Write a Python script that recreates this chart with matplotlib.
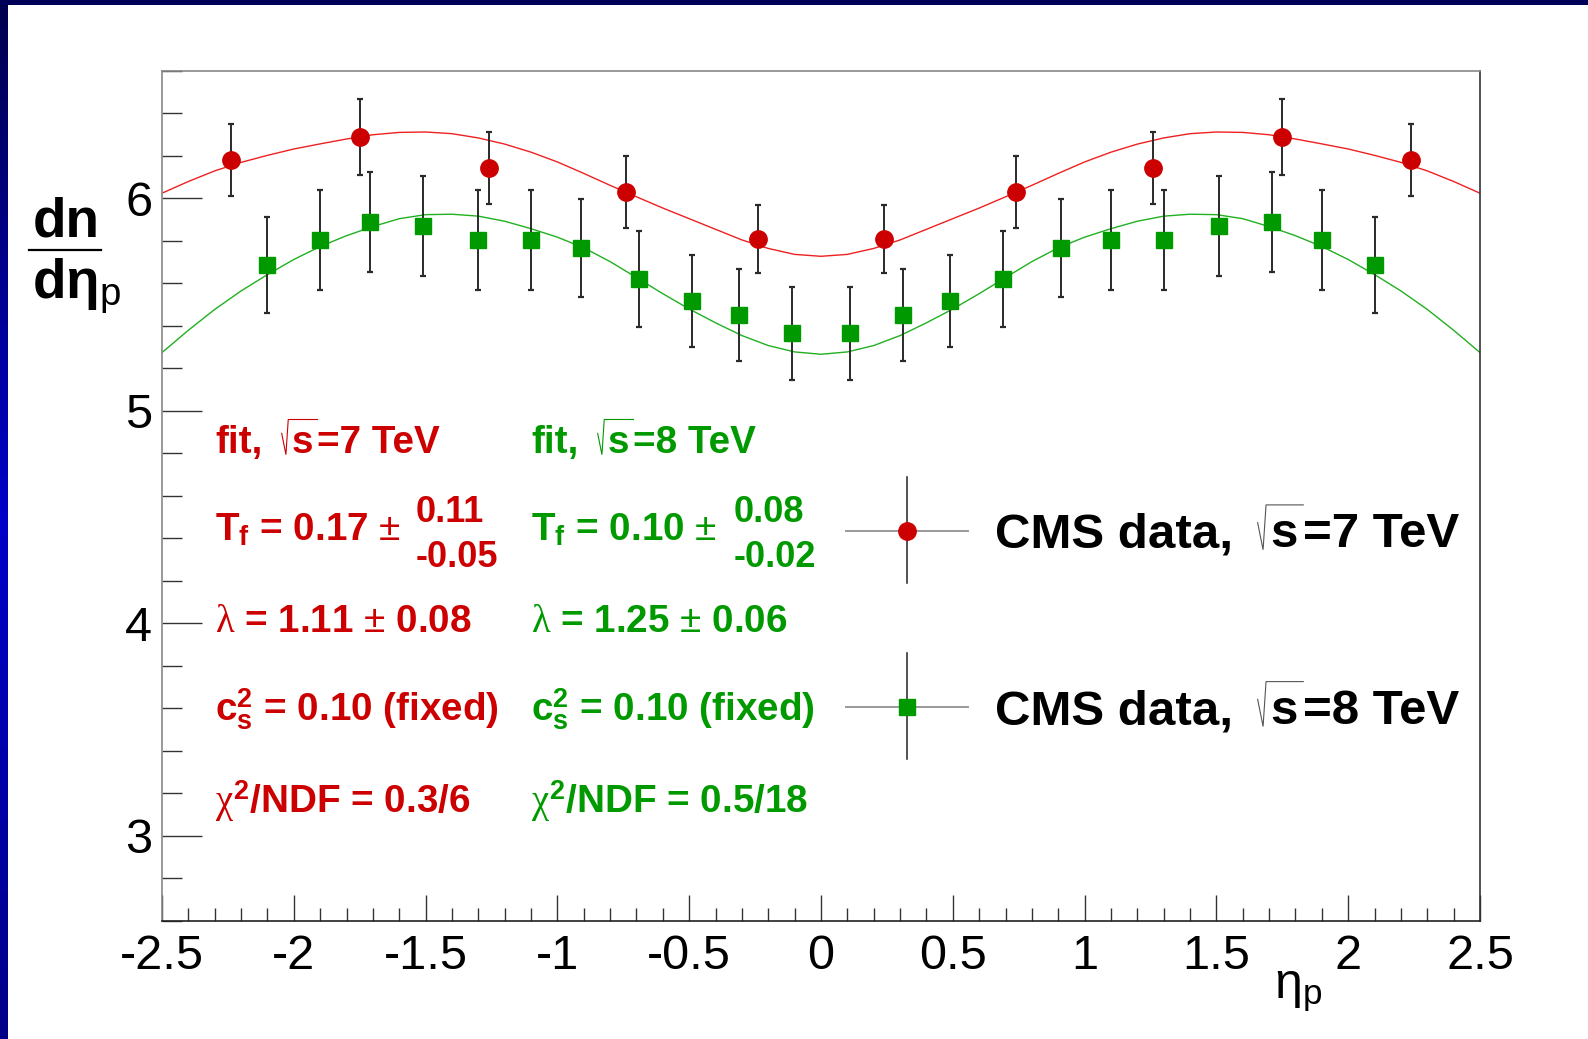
import numpy as np
import matplotlib
matplotlib.use('Agg')
import matplotlib.pyplot as plt
from matplotlib.colors import LinearSegmentedColormap

# ---------------- data ----------------
x7 = [-2.24, -1.75, -1.26, -0.74, -0.24, 0.24, 0.74, 1.26, 1.75, 2.24]
y7 = [6.18, 6.29, 6.145, 6.03, 5.81, 5.81, 6.03, 6.145, 6.29, 6.18]
e7 = [0.17, 0.18, 0.17, 0.17, 0.16, 0.16, 0.17, 0.17, 0.18, 0.17]

x8 = [-2.10, -1.90, -1.71, -1.51, -1.30, -1.10, -0.91, -0.69, -0.49, -0.31, -0.11,
      0.11, 0.31, 0.49, 0.69, 0.91, 1.10, 1.30, 1.51, 1.71, 1.90, 2.10]
y8 = [5.686, 5.803, 5.889, 5.871, 5.803, 5.803, 5.768, 5.620, 5.518, 5.451, 5.365,
      5.365, 5.451, 5.518, 5.620, 5.768, 5.803, 5.803, 5.871, 5.889, 5.803, 5.686]
e8 = [0.225, 0.235, 0.234, 0.235, 0.235, 0.235, 0.230, 0.225, 0.216, 0.217, 0.217,
      0.217, 0.217, 0.216, 0.225, 0.230, 0.235, 0.235, 0.235, 0.234, 0.235, 0.225]

fit_x = [-2.5, -2.4, -2.3, -2.2, -2.1, -2.0, -1.9, -1.8, -1.7, -1.6, -1.5, -1.4, -1.3,
         -1.2, -1.1, -1.0, -0.9, -0.8, -0.7, -0.6, -0.5, -0.4, -0.3, -0.2, -0.1, 0.0,
         0.1, 0.2, 0.3, 0.4, 0.5, 0.6, 0.7, 0.8, 0.9, 1.0, 1.1, 1.2, 1.3, 1.4, 1.5,
         1.6, 1.7, 1.8, 1.9, 2.0, 2.1, 2.2, 2.3, 2.4, 2.5]
fit7 = [6.025, 6.080, 6.130, 6.170, 6.203, 6.233, 6.257, 6.280, 6.300, 6.311, 6.313,
        6.305, 6.285, 6.256, 6.218, 6.172, 6.118, 6.062, 6.008, 5.955, 5.905, 5.855,
        5.805, 5.765, 5.737, 5.728,
        5.737, 5.765, 5.805, 5.855, 5.905, 5.955, 6.008, 6.062, 6.118, 6.172, 6.218,
        6.256, 6.285, 6.305, 6.313, 6.311, 6.300, 6.280, 6.257, 6.233, 6.203, 6.170,
        6.130, 6.080, 6.025]
fit8 = [5.275, 5.380, 5.478, 5.565, 5.642, 5.713, 5.774, 5.825, 5.868, 5.905, 5.924,
        5.926, 5.917, 5.893, 5.858, 5.818, 5.768, 5.703, 5.628, 5.552, 5.480, 5.415,
        5.355, 5.308, 5.278, 5.267,
        5.278, 5.308, 5.355, 5.415, 5.480, 5.552, 5.628, 5.703, 5.768, 5.818, 5.858,
        5.893, 5.917, 5.926, 5.924, 5.905, 5.868, 5.825, 5.774, 5.713, 5.642, 5.565,
        5.478, 5.380, 5.275]

xticks = [-2.5, -2.0, -1.5, -1.0, -0.5, 0.0, 0.5, 1.0, 1.5, 2.0, 2.5]
xtick_labels = ['-2.5', '-2', '-1.5', '-1', '-0.5', '0', '0.5', '1', '1.5', '2', '2.5']
yticks = [3, 4, 5, 6]
ytick_labels = ['3', '4', '5', '6']

# (text before sqrt, text after sqrt) for the header lines
fit_head_7 = ('fit,', '=7 TeV')
fit_head_8 = ('fit,', '=8 TeV')
fit_lines_7 = [r'T$_\mathrm{f}$ = 0.17 $\mathsf{\pm}$',
               r'$\lambda$ = 1.11 $\mathsf{\pm}$ 0.08',
               r'c$_\mathrm{s}^\mathrm{2}$ = 0.10 (fixed)',
               r'$\chi^\mathrm{2}$/NDF = 0.3/6']
fit_err_7 = ['0.11', '-0.05']
fit_lines_8 = [r'T$_\mathrm{f}$ = 0.10 $\mathsf{\pm}$',
               r'$\lambda$ = 1.25 $\mathsf{\pm}$ 0.06',
               r'c$_\mathrm{s}^\mathrm{2}$ = 0.10 (fixed)',
               r'$\chi^\mathrm{2}$/NDF = 0.5/18']
fit_err_8 = ['0.08', '-0.02']
legend_labels = [('CMS data,', '=7 TeV'), ('CMS data,', '=8 TeV')]

RED = '#CC0000'
GREEN = '#009900'

# ---------------- style ----------------
plt.rcParams['mathtext.fontset'] = 'custom'
plt.rcParams['mathtext.rm'] = 'Liberation Sans:bold'
plt.rcParams['mathtext.bf'] = 'Liberation Sans:bold'
plt.rcParams['mathtext.it'] = 'Liberation Serif'
plt.rcParams['mathtext.sf'] = 'Liberation Sans'
plt.rcParams['font.family'] = ['Liberation Sans', 'DejaVu Sans']

W, H = 1588, 1039
fig = plt.figure(figsize=(W / 100, H / 100), dpi=100)
fig.patch.set_facecolor('white')
renderer = fig.canvas.get_renderer()

# slide border (left gradient strip, top band)
cmap = LinearSegmentedColormap.from_list('bord', [(0.0, '#00004E'), (0.5, '#0000C8'), (1.0, '#000088')])
bl = fig.add_axes([0, 0, 8 / W, 1])
bl.imshow(np.linspace(0, 1, 256).reshape(-1, 1), aspect='auto', cmap=cmap, extent=[0, 1, 1, 0])
bl.axis('off')
bt = fig.add_axes([0, 1 - 5 / H, 1, 5 / H])
bt.set_facecolor('#000058')
bt.set_xticks([]); bt.set_yticks([])
for s in bt.spines.values():
    s.set_visible(False)

# ---------------- main axes ----------------
ax = fig.add_axes([162 / W, 1 - 921 / H, 1318 / W, 850 / H])
ax.set_xlim(-2.5, 2.5)
ax.set_ylim(2.6, 6.6)

ax.plot(fit_x, fit7, color='#EE2020', lw=1.0, zorder=2)
ax.plot(fit_x, fit8, color='#20B020', lw=1.0, zorder=2)

ax.errorbar(x7, y7, yerr=e7, fmt='o', color=RED, ms=12.5, mec=RED,
            ecolor='#2a2a2a', elinewidth=1.4, capsize=2.3, capthick=1.6, zorder=4)
ax.errorbar(x8, y8, yerr=e8, fmt='s', color=GREEN, ms=11.5, mec=GREEN,
            ecolor='#2a2a2a', elinewidth=1.4, capsize=2.3, capthick=1.6, zorder=4)

ax.set_xticks(xticks, xtick_labels)
ax.set_xticks(np.round(np.arange(-2.5, 2.51, 0.1), 2), minor=True)
ax.set_yticks(yticks, ytick_labels)
ax.set_yticks(np.round(np.arange(2.6, 6.61, 0.2), 2), minor=True)
ax.tick_params(which='both', direction='in', top=False, right=False, colors='#333333',
               labelcolor='black', width=1.0)
ax.tick_params(axis='x', which='major', length=18.4, labelsize=35, pad=9.5)
ax.tick_params(axis='x', which='minor', length=9.2)
ax.tick_params(axis='y', which='major', length=28.8, labelsize=35, pad=7)
ax.tick_params(axis='y', which='minor', length=14.4)
for t in ax.get_xticklabels() + ax.get_yticklabels():
    t.set_fontfamily('Liberation Sans')

ax.spines['left'].set_color('#888888')
ax.spines['top'].set_color('#888888')
ax.spines['right'].set_color('#333333')
ax.spines['bottom'].set_color('#222222')
for s in ax.spines.values():
    s.set_linewidth(1.2)

# ---------------- overlay in pixel coordinates ----------------
ov = fig.add_axes([0, 0, 1, 1])
ov.set_xlim(0, W)
ov.set_ylim(H, 0)
ov.axis('off')


def sqrt_line(x, base, pre, post, size, color, rad_color):
    """'pre  sqrt(s)post' with a thin ROOT-like radical sign."""
    em = size * 100 / 72.0
    t1 = ov.text(x, base, pre, fontsize=size, fontweight='bold', color=color, va='baseline')
    w1 = t1.get_window_extent(renderer).width
    xr = x + w1 + 0.5 * em
    xt = xr + 0.17 * em
    ytop = base - 0.86 * em
    t2 = ov.text(xt + 0.08 * em, base, 's', fontsize=size, fontweight='bold', color=color,
                 va='baseline')
    w2 = t2.get_window_extent(renderer).width
    xe = xt + w2 + 0.2 * em
    ov.plot([xr, xr + 0.11 * em, xt, xe], [base - 0.5 * em, base + 0.05 * em, ytop, ytop],
            color=rad_color, lw=0.8, solid_joinstyle='miter')
    ov.text(xe, base, post, fontsize=size, fontweight='bold', color=color, va='baseline')


FS = 27.8
baselines = [540, 631.7, 720, 813.3]
for col_x, head, lines, errs, col, ex in [(215, fit_head_7, fit_lines_7, fit_err_7, RED, 416),
                                          (531, fit_head_8, fit_lines_8, fit_err_8, GREEN, 734)]:
    sqrt_line(col_x, 452.7, head[0], head[1], FS, col, col)
    for s, b in zip(lines, baselines):
        ov.text(col_x, b, s, fontsize=FS, fontweight='bold', color=col,
                va='baseline', ha='left')
    ov.text(ex, 521.7, errs[0], fontsize=26, fontweight='bold', color=col, va='baseline')
    ov.text(ex, 566.7, errs[1], fontsize=26, fontweight='bold', color=col, va='baseline')

# legend
for yc, (v0, v1), mk, col, ms, lab, tb in [
        (530.7, (476.7, 583.3), 'o', RED, 12.5, legend_labels[0], 547.3),
        (707.3, (653.3, 759.0), 's', GREEN, 11.5, legend_labels[1], 724.0)]:
    ov.plot([846, 968], [yc, yc], color='#999999', lw=1.4)
    ov.plot([907, 907], [v0, v1], color='#222222', lw=1.1)
    ov.plot([907], [yc], marker=mk, ms=ms, color=col, mec=col, ls='none')
    sqrt_line(995, tb, lab[0], lab[1], 35.5, 'black', '#555555')

# y-axis label as a fraction
ov.text(66, 236.7, 'dn', fontsize=39.5, fontweight='bold', ha='center', va='baseline')
ov.plot([29, 101], [250, 250], color='black', lw=1.6)
ov.text(32, 298, r'd$\mathbf{\eta}_\mathsf{p}$', fontsize=39.5, fontweight='bold',
        ha='left', va='baseline')

# x-axis label
ov.text(1322, 998, r'$\mathsf{\eta}_\mathsf{p}$', fontsize=36, ha='right', va='baseline')

fig.savefig('out.png', dpi=100, facecolor='white')
